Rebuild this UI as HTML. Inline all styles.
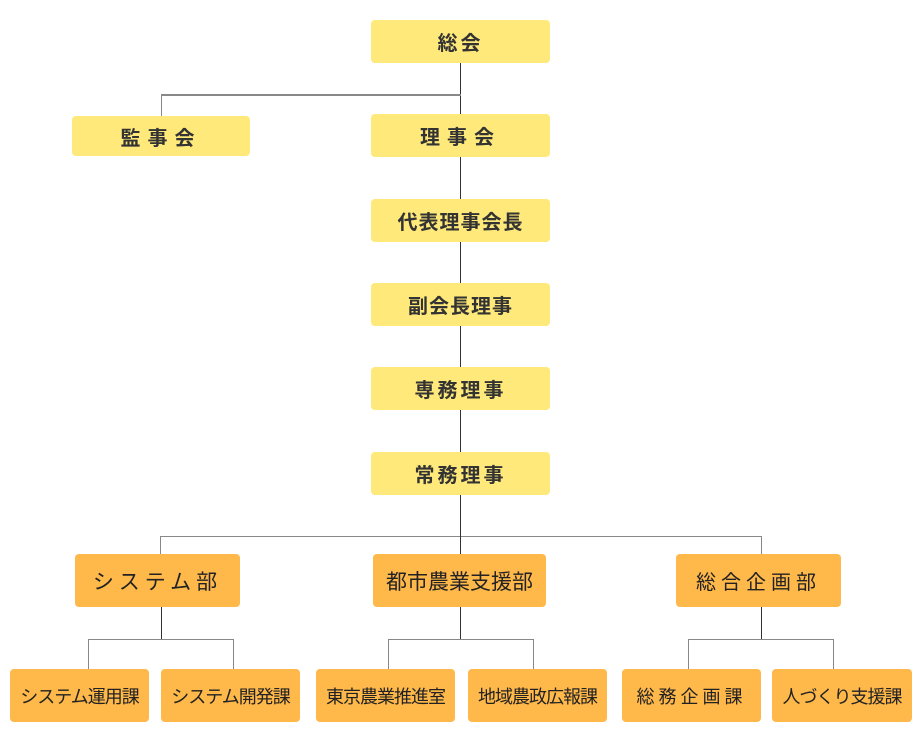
<!DOCTYPE html><html><head><meta charset="utf-8"><style>
body{margin:0;width:920px;height:745px;background:#fff;position:relative;overflow:hidden;font-family:"Liberation Sans","Noto Sans CJK JP",sans-serif}
.b{position:absolute;display:flex;align-items:center;justify-content:center;border-radius:4px;color:#333;font-weight:bold;font-size:20px;letter-spacing:3px}
.y{background:#ffe97a}.o{background:#ffb84a;color:#222;font-weight:normal}
.l{position:absolute;background:#888}.d{background:#333}
</style></head><body>
<div class="l d" style="left:460px;top:63px;width:1px;height:390px"></div>
<div class="l" style="left:161px;top:94px;width:300px;height:2px"></div>
<div class="l" style="left:161px;top:95px;width:1px;height:21px"></div>
<div class="l" style="left:160px;top:536px;width:602px;height:1px"></div>
<div class="l" style="left:160px;top:536px;width:1px;height:18px"></div>
<div class="l" style="left:761px;top:536px;width:1px;height:18px"></div>
<div class="l d" style="left:460px;top:495px;width:1px;height:59px"></div>
<div class="l d" style="left:161px;top:607px;width:1px;height:32px"></div>
<div class="l d" style="left:460px;top:607px;width:1px;height:32px"></div>
<div class="l d" style="left:761px;top:607px;width:1px;height:32px"></div>
<div class="l" style="left:88px;top:639px;width:146px;height:1px"></div>
<div class="l" style="left:88px;top:639px;width:1px;height:30px"></div>
<div class="l" style="left:233px;top:639px;width:1px;height:30px"></div>
<div class="l" style="left:388px;top:639px;width:146px;height:1px"></div>
<div class="l" style="left:388px;top:639px;width:1px;height:30px"></div>
<div class="l" style="left:533px;top:639px;width:1px;height:30px"></div>
<div class="l" style="left:688px;top:639px;width:146px;height:1px"></div>
<div class="l" style="left:688px;top:639px;width:1px;height:30px"></div>
<div class="l" style="left:833px;top:639px;width:1px;height:30px"></div>
<div class="b y" style="left:371px;top:20px;width:179px;height:43px">総会</div>
<div class="b y" style="left:72px;top:116px;width:178px;height:40px;letter-spacing:7px">監事会</div>
<div class="b y" style="left:371px;top:114px;width:179px;height:43px;letter-spacing:7px">理事会</div>
<div class="b y" style="left:371px;top:199px;width:179px;height:43px;letter-spacing:1px">代表理事会長</div>
<div class="b y" style="left:371px;top:283px;width:179px;height:43px;letter-spacing:1px">副会長理事</div>
<div class="b y" style="left:371px;top:367px;width:179px;height:43px">専務理事</div>
<div class="b y" style="left:371px;top:452px;width:179px;height:43px">常務理事</div>
<div class="b o" style="left:75px;top:554px;width:165px;height:53px;font-size:21px;letter-spacing:5px">システム部</div>
<div class="b o" style="left:373px;top:554px;width:173px;height:53px;font-size:21px;letter-spacing:0">都市農業支援部</div>
<div class="b o" style="left:676px;top:554px;width:165px;height:53px;font-size:20px;letter-spacing:5px">総合企画部</div>
<div class="b o" style="left:10px;top:669px;width:139px;height:53px;font-size:18px;letter-spacing:-1px">システム運用課</div>
<div class="b o" style="left:161px;top:669px;width:139px;height:53px;font-size:18px;letter-spacing:-1px">システム開発課</div>
<div class="b o" style="left:316px;top:669px;width:139px;height:53px;font-size:18px;letter-spacing:-1px">東京農業推進室</div>
<div class="b o" style="left:468px;top:669px;width:139px;height:53px;font-size:18px;letter-spacing:-1px">地域農政広報課</div>
<div class="b o" style="left:622px;top:669px;width:139px;height:53px;font-size:18px;letter-spacing:4px">総務企画課</div>
<div class="b o" style="left:772px;top:669px;width:140px;height:53px;font-size:18px;letter-spacing:-1px">人づくり支援課</div>
</body></html>
